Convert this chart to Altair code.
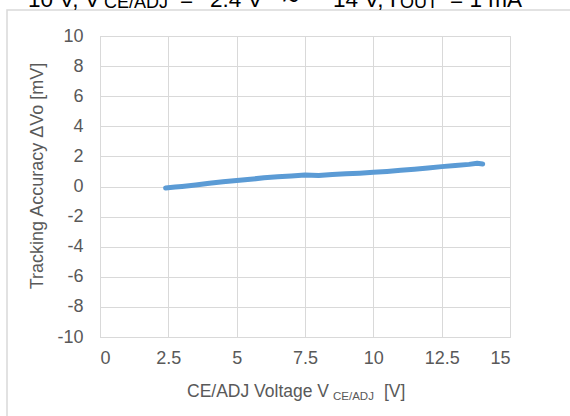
import altair as alt
import pandas as pd

# Tracking accuracy measured while sweeping the CE/ADJ pin voltage
v_ce_adj = [2.4, 2.75, 3.0, 3.5, 4.0, 4.5, 5.0, 5.5, 6.0, 6.5, 7.0, 7.5, 8.0,
            8.5, 9.0, 9.5, 10.0, 10.5, 11.0, 11.5, 12.0, 12.5, 13.0, 13.5,
            13.8, 14.0]
delta_vo = [-0.10, -0.04, 0.00, 0.10, 0.22, 0.32, 0.40, 0.48, 0.58, 0.64,
            0.70, 0.76, 0.73, 0.80, 0.84, 0.88, 0.94, 1.00, 1.08, 1.15,
            1.23, 1.32, 1.40, 1.47, 1.54, 1.50]

x_ticks = [0, 2.5, 5, 7.5, 10, 12.5, 15]
y_ticks = [-10, -8, -6, -4, -2, 0, 2, 4, 6, 8, 10]

# Condition line above the chart, split into normal and subscript runs
cond_runs = ["10 V, V", "CE/ADJ", "=", "2.4 V", "～", "14 V, I", "OUT", "= 1 mA"]
x_title_runs = ["CE/ADJ Voltage V", "CE/ADJ", "[V]"]
y_title = "Tracking Accuracy ΔVo [mV]"

FONT = "Liberation Sans"
GRID = "#d9d9d9"
LABEL = "#595959"

df = pd.DataFrame({"v": v_ce_adj, "dvo": delta_vo})

base = alt.Chart(df)

line = base.mark_line(color="#5b9bd5", strokeWidth=5, strokeCap="round",
                      strokeJoin="round").encode(
    x=alt.X("v:Q", scale=alt.Scale(domain=[0, 15], nice=False),
            axis=alt.Axis(values=x_ticks, title=None, grid=True,
                          gridColor=GRID, domainColor=GRID, ticks=False,
                          tickSize=0, labelPadding=12, labelFontSize=18,
                          labelFont=FONT, labelColor=LABEL,
                          labelExpr="'' + datum.value")),
    y=alt.Y("dvo:Q", scale=alt.Scale(domain=[-10, 10], nice=False),
            axis=alt.Axis(values=y_ticks, title=None, grid=True,
                          gridColor=GRID, domainColor=GRID, ticks=False,
                          tickSize=0, labelPadding=17, labelFontSize=18,
                          labelFont=FONT, labelColor=LABEL,
                          labelExpr="'' + datum.value")),
)


def run(text, x, y, size, color, angle=0, align="left"):
    return alt.Chart(pd.DataFrame({"t": [text]})).mark_text(
        font=FONT, fontSize=size, color=color, align=align,
        baseline="alphabetic" if angle == 0 else "middle", angle=angle,
    ).encode(text="t:N", x=alt.value(x), y=alt.value(y))


# outer frame around the chart
frame = alt.Chart(pd.DataFrame({"a": [0]})).mark_rect(
    fill=None, stroke=GRID, strokeWidth=1.5
).encode(x=alt.value(-93), x2=alt.value(480), y=alt.value(-26),
         y2=alt.value(400))

TS = 22.5   # condition text size
SS = 18     # condition subscript size
title_layers = [
    run(cond_runs[0], -72, -29, TS, "black"),
    run(cond_runs[1], 4, -28, SS, "black"),
    run(cond_runs[2], 80, -29, TS, "black"),
    run(cond_runs[3], 110, -29, TS, "black"),
    run(cond_runs[4], 178, -29, 26, "black"),
    run(cond_runs[5], 233, -29, TS, "black"),
    run(cond_runs[6], 300, -28, SS, "black"),
    run(cond_runs[7], 350, -29, TS, "black"),
]

axis_titles = [
    run(x_title_runs[0], 87, 361, 17.5, LABEL),
    run(x_title_runs[1], 233, 364, 11.5, LABEL),
    run(x_title_runs[2], 284, 361, 17.5, LABEL),
    run(y_title, -62, 140, 18, LABEL, angle=270, align="center"),
]

chart = alt.layer(frame, line, *title_layers, *axis_titles).properties(
    width=410, height=301,
    autosize=alt.AutoSizeParams(type="none"),
    padding={"left": 100, "top": 36, "right": 60, "bottom": 79},
).configure_view(stroke=GRID, strokeWidth=1)

chart.save("out.html", embed_options={"renderer": "svg", "actions": False})
